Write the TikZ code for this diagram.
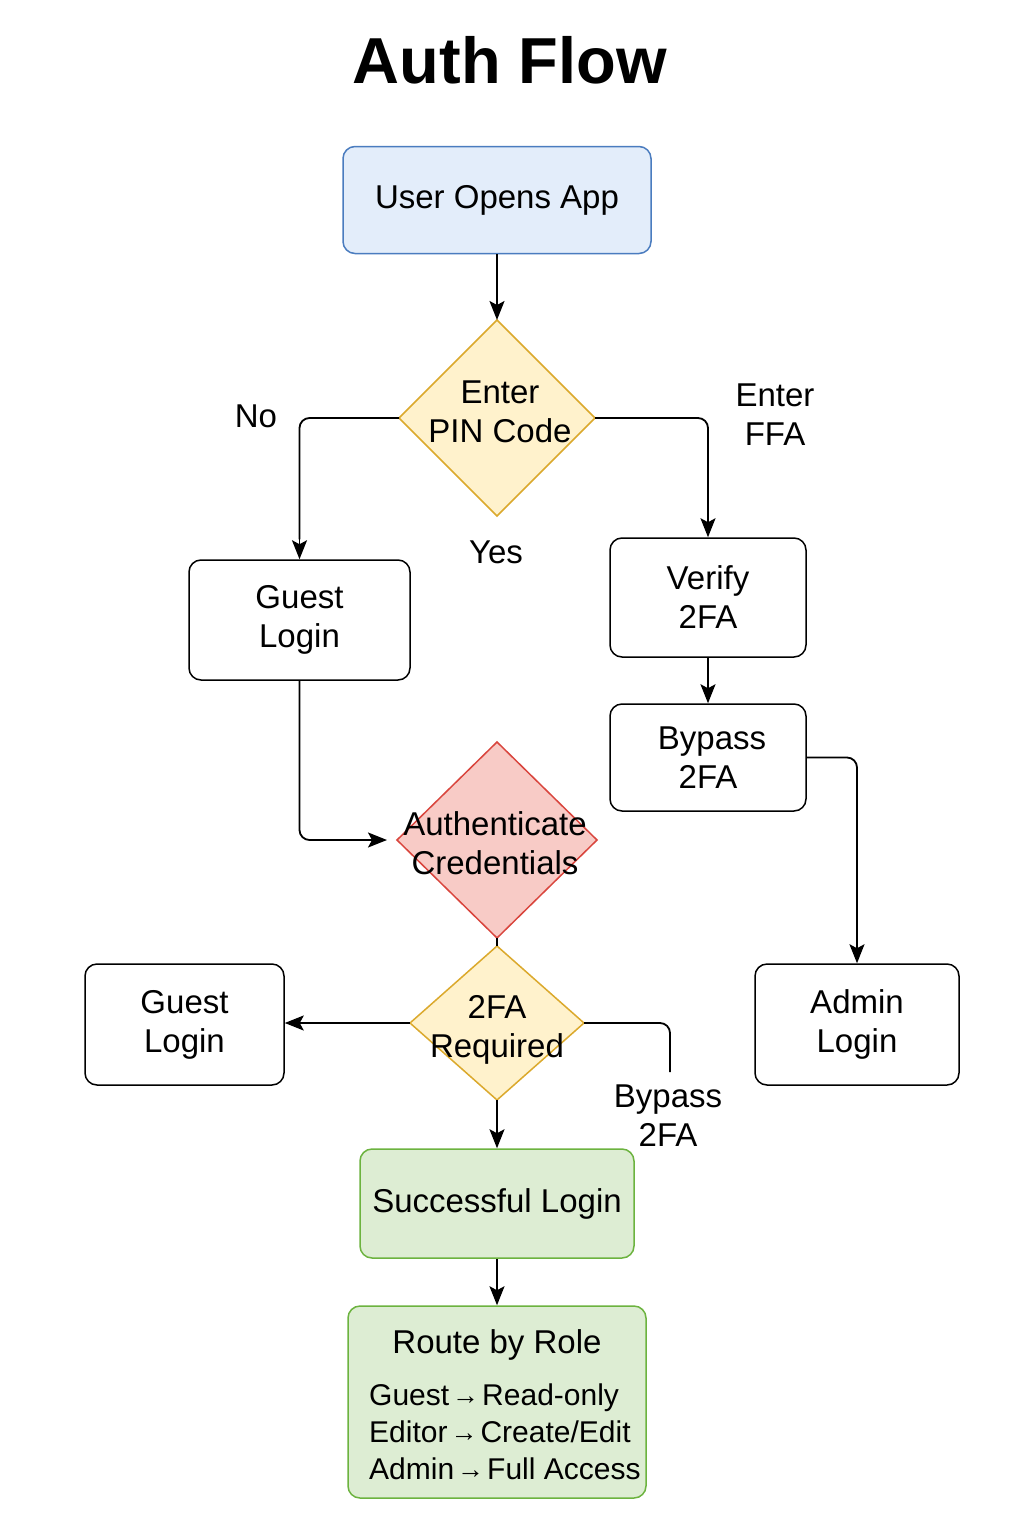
\documentclass[tikz,border=0pt]{standalone}
\usepackage{fontspec}
\setmainfont{Liberation Sans}
\usetikzlibrary{shapes.geometric,arrows.meta}
\definecolor{bluefill}{HTML}{E3EDFA}
\definecolor{blueline}{HTML}{4A7CBF}
\definecolor{yelfill}{HTML}{FFF2CC}
\definecolor{yelline}{HTML}{DBA92C}
\definecolor{redfill}{HTML}{F8CBC6}
\definecolor{redline}{HTML}{D9453D}
\definecolor{grnfill}{HTML}{DDEDD3}
\definecolor{grnline}{HTML}{6CB33F}
\newcommand{\rarr}{\hspace{3pt}{\fontsize{27}{27}\selectfont\raisebox{1pt}{→}}\hspace{3pt}}
\begin{document}
\begin{tikzpicture}[x=1pt,y=-1pt,
  txt/.style={font=\fontsize{33}{39}\selectfont, align=center, inner sep=0pt},
  box/.style={draw=black, line width=1.5pt, rounded corners=12pt, fill=white, inner sep=0pt, align=center, font=\fontsize{33}{39}\selectfont},
  dia/.style={diamond, line width=1.5pt, inner sep=0pt, outer sep=0pt},
  conn/.style={line width=1.8pt},
  tipped/.style={-{Stealth[length=19pt,width=15pt,inset=4pt]}},
  arr/.style={conn, tipped},
  elbow/.style={conn, rounded corners=10pt}
]
\useasboundingbox (0,0) rectangle (1024,1536);
\fill[white] (0,0) rectangle (1024,1536);

\node[font=\fontsize{65}{65}\selectfont\bfseries] (title) at (510,60) {Auth Flow};

\node[box, draw=blueline, fill=bluefill, minimum width=308pt, minimum height=107pt] (open) at (497,200) {User Opens App};

\node[dia, draw=yelline, fill=yelfill, minimum width=196pt, minimum height=196pt] (pin) at (497,418) {};
\node[txt] (pint) at (500,412) {Enter\\PIN Code};

\node[box, minimum width=221pt, minimum height=120pt] (gl1) at (299.5,620) {Guest\\Login};
\node[box, minimum width=196pt, minimum height=119pt] (ver) at (708,597.5) {Verify\\2FA};
\node[box, minimum width=196pt, minimum height=107pt] (byp) at (708,757.5) {\hspace*{8pt}Bypass\\2FA};

\node[dia, draw=redline, fill=redfill, minimum width=200pt, minimum height=196pt] (auth) at (497,840) {};
\node[txt] (autht) at (495,843) {Authenticate\\Credentials};

\node[dia, draw=yelline, fill=yelfill, minimum width=174pt, minimum height=154pt] (req) at (497,1023) {};
\node[txt] (reqt) at (497,1030) {2FA\\Required};

\node[box, minimum width=199pt, minimum height=121pt] (gl2) at (184.5,1024.5) {Guest\\Login};
\node[box, minimum width=204pt, minimum height=121pt] (adm) at (857,1024.5) {Admin\\Login};

\node[box, draw=grnline, fill=grnfill, minimum width=274pt, minimum height=109pt] (succ) at (497,1203.5) {Successful Login};

\node[box, draw=grnline, fill=grnfill, minimum width=298pt, minimum height=192pt] (route) at (497,1402) {};
\node[txt] (routet) at (497,1345) {Route by Role};
\node[font=\fontsize{30}{37}\selectfont, align=left, inner sep=0pt, anchor=west] (roles) at (369,1432)
  {Guest\rarr Read-only\\Editor\rarr Create/Edit\\Admin\rarr Full Access};

% labels
\node[txt] (lno) at (256,416) {No};
\node[txt] (lffa) at (775,415) {Enter\\FFA};
\node[txt] (lyes) at (496,552) {Yes};
\node[txt] (lbyp) at (668,1116) {Bypass\\2FA};

\coordinate (bpend) at (670,1072);
\coordinate (authin) at ([xshift=-10pt]auth.west);

% connectors
\draw[arr] (open.south) -- (pin.north);
\draw[elbow] (pin.west) -| ([yshift=20pt]gl1.north);
\draw[arr] ([yshift=21pt]gl1.north) -- (gl1.north);
\draw[elbow] (pin.east) -| ([yshift=20pt]ver.north);
\draw[arr] ([yshift=21pt]ver.north) -- (ver.north);
\draw[arr] (ver.south) -- (byp.north);
\draw[elbow] (byp.east) -| ([yshift=20pt]adm.north);
\draw[arr] ([yshift=21pt]adm.north) -- (adm.north);
\draw[elbow] (gl1.south) |- ([xshift=-30pt]authin);
\draw[arr] ([xshift=-31pt]authin) -- (authin);
\draw[conn] (auth.south) -- (req.north);
\draw[arr] (req.west) -- (req.west -| gl2.east);
\draw[elbow] (req.east) -| (bpend);
\draw[arr] (req.south) -- (succ.north);
\draw[arr] (succ.south) -- (route.north);
\end{tikzpicture}
\end{document}
